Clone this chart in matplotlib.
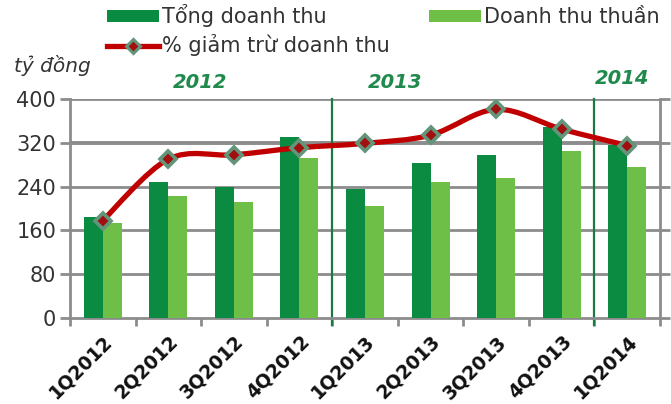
import matplotlib
matplotlib.use("Agg")
import matplotlib.pyplot as plt
from matplotlib.path import Path
from matplotlib.patches import PathPatch, Patch
from matplotlib.lines import Line2D
import numpy as np

# Quarterly revenue (tỷ đồng) and revenue deductions
quarters = ["1Q2012", "2Q2012", "3Q2012", "4Q2012", "1Q2013",
            "2Q2013", "3Q2013", "4Q2013", "1Q2014"]
tong_doanh_thu = [185, 249, 240, 330, 235, 284, 298, 349, 316]
doanh_thu_thuan = [173, 223, 211, 293, 205, 249, 255, 305, 275]
giam_tru = [178, 290, 298, 311, 319, 334, 381, 345, 315]
years = ["2012", "2013", "2014"]
y_ticks = [0, 80, 160, 240, 320, 400]

DARK = "#0b8a42"
LIGHT = "#6dbf47"
RED = "#c00000"
GRID = "#8c8c8c"
YEAR_C = "#1f8a4c"
TXT = "#333333"

plt.rcParams["font.family"] = ["DejaVu Sans"]

fig = plt.figure(figsize=(6.71, 4.04), dpi=100)
ax = fig.add_axes([70 / 671, 1 - 318 / 404, 590 / 671, 219 / 404])

x = np.arange(len(quarters))
w = 0.29
ax.bar(x - w / 2, tong_doanh_thu, w, color=DARK, zorder=3)
ax.bar(x + w / 2, doanh_thu_thuan, w, color=LIGHT, zorder=3)

# smooth curve through the deduction points (Catmull-Rom as cubic Bezier)
pts = np.column_stack([x, giam_tru]).astype(float)
verts = [tuple(pts[0])]
codes = [Path.MOVETO]
for i in range(len(pts) - 1):
    p0 = pts[i - 1] if i > 0 else pts[i]
    p1, p2 = pts[i], pts[i + 1]
    p3 = pts[i + 2] if i + 2 < len(pts) else pts[i + 1]
    c1 = p1 + (p2 - p0) / 6.0
    c2 = p2 - (p3 - p1) / 6.0
    verts += [tuple(c1), tuple(c2), tuple(p2)]
    codes += [Path.CURVE4] * 3
ax.add_patch(PathPatch(Path(verts, codes), facecolor="none", edgecolor=RED,
                       lw=3.8, zorder=4, capstyle="round", joinstyle="round"))
ax.plot(x, giam_tru, ls="none", marker="D", ms=8.5, mfc="#a01010",
        mec="#62957a", mew=2.6, zorder=5)

ax.set_xlim(-0.5, len(quarters) - 0.5)
ax.set_ylim(0, 400)
ax.set_yticks(y_ticks)
ax.set_yticklabels([str(v) for v in y_ticks], fontsize=15, color=TXT)
for v in y_ticks[1:]:
    ax.axhline(v, color=GRID, lw=2.8 if v == 320 else 2.0, zorder=1)

ax.set_xticks(x)
ax.set_xticklabels(quarters, rotation=45, ha="right", va="top",
                   rotation_mode="anchor", fontsize=13.5, fontweight="bold",
                   color="#111111")
ax.tick_params(axis="x", which="major", length=0, pad=10)
ax.set_xticks(np.arange(-0.5, len(quarters), 1.0), minor=True)
ax.tick_params(axis="x", which="minor", length=6, width=2, color=GRID,
               direction="out")
ax.tick_params(axis="y", which="major", length=7, width=2, color=GRID,
               direction="out", right=True, pad=3)

for side in ["left", "right", "bottom"]:
    ax.spines[side].set_color(GRID)
    ax.spines[side].set_linewidth(2)
    ax.spines[side].set_zorder(2)
ax.spines["top"].set_visible(False)

# year separators
for b in [3.5, 7.5]:
    ax.axvline(b, ymin=-0.03, ymax=1, color="#1a7a40", lw=1.6, zorder=2,
               clip_on=False)

year_pos = [(200, 82), (395, 82), (622, 78)]
for yr, (px, py) in zip(years, year_pos):
    fig.text(px / 671, 1 - py / 404, yr, ha="center", va="center",
             fontsize=14, fontweight="bold", fontstyle="italic", color=YEAR_C)

fig.text(14 / 671, 1 - 66 / 404, "tỷ đồng", ha="left", va="center",
         fontsize=14.5, fontstyle="italic", color=TXT)

handles = [
    Patch(facecolor=DARK, edgecolor="none"),
    Line2D([], [], color=RED, lw=3.8, marker="D", ms=7, mfc="#a01010",
           mec="#62957a", mew=2.2),
    Patch(facecolor=LIGHT, edgecolor="none"),
]
labels = ["Tổng doanh thu", "% giảm trừ doanh thu", "Doanh thu thuần"]
fig.legend(handles, labels, loc="upper left", ncol=2,
           bbox_to_anchor=(107 / 671, 1 - 4 / 404), frameon=False,
           fontsize=15, handlelength=2.5, handleheight=0.5,
           handletextpad=0.15, labelspacing=0.35, columnspacing=1.85,
           borderpad=0, borderaxespad=0, labelcolor=TXT)

fig.savefig("out.png", dpi=100)
